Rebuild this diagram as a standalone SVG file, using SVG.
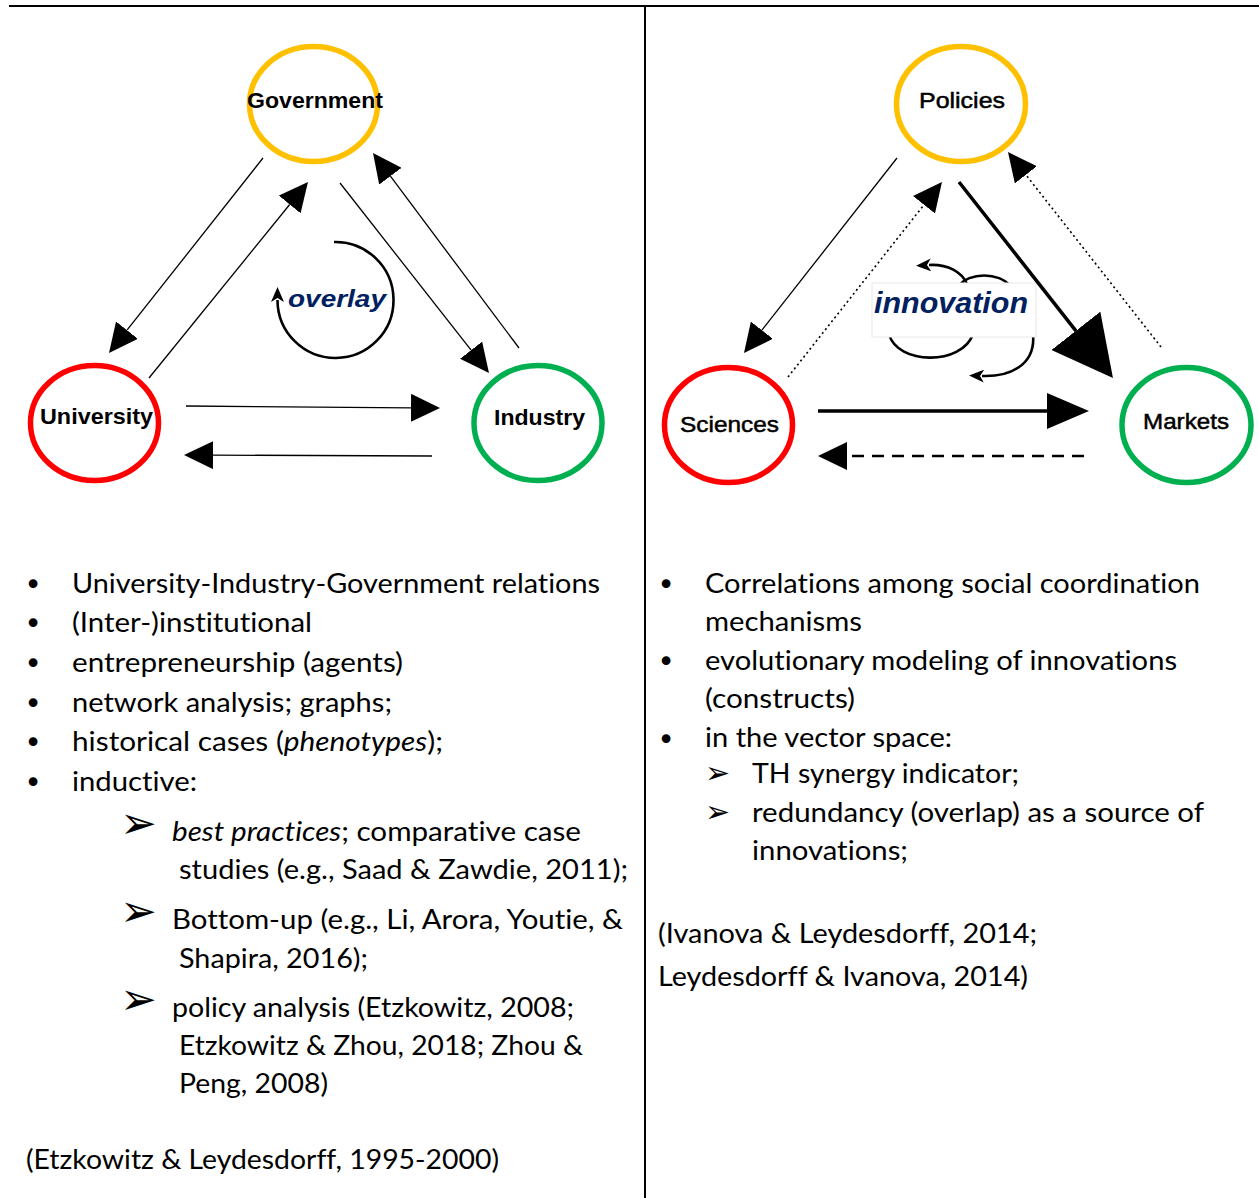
<svg xmlns="http://www.w3.org/2000/svg" width="1259" height="1198" viewBox="0 0 1259 1198">
<defs>
<style>
.t{font-family:Lato,"Open Sans",sans-serif;font-size:27px;fill:#000;font-variant-ligatures:none}
.it{font-style:italic}
.bul{font-family:"DejaVu Sans",sans-serif;font-size:30px;fill:#000}
.arr{font-family:"DejaVu Sans",sans-serif;fill:#000}
.lbl{font-family:"Liberation Sans",Arial,sans-serif;font-weight:bold;font-size:22px;fill:#000}
.lbr{font-family:"Liberation Sans",Arial,sans-serif;font-size:22px;fill:#000;stroke:#000;stroke-width:0.5}
.c{fill:none;stroke-width:5.5}
.ln{fill:none;stroke:#000;stroke-width:1.3}
.thk{fill:none;stroke:#000;stroke-width:3.5}
.dot{fill:none;stroke:#000;stroke-width:1.6;stroke-dasharray:2 3}
.dsh{fill:none;stroke:#000;stroke-width:2.5;stroke-dasharray:12 8}
.cur{fill:none;stroke:#000;stroke-width:2.6}
</style>
<marker id="ah" markerUnits="userSpaceOnUse" viewBox="0 0 29 28" markerWidth="29" markerHeight="28" refX="0" refY="14" orient="auto"><path d="M0,0 L29,14 L0,28 Z" fill="#000"/></marker>
<marker id="ahBig" markerUnits="userSpaceOnUse" viewBox="0 0 60 62" markerWidth="60" markerHeight="62" refX="0" refY="31" orient="auto"><path d="M0,0 L60,31 L0,62 Z" fill="#000"/></marker>
<marker id="ahMed" markerUnits="userSpaceOnUse" viewBox="0 0 42 36" markerWidth="42" markerHeight="36" refX="0" refY="18" orient="auto"><path d="M0,0 L42,18 L0,36 Z" fill="#000"/></marker>
<marker id="barb" markerUnits="userSpaceOnUse" viewBox="0 0 15 13" markerWidth="15" markerHeight="13" refX="2" refY="6.5" orient="auto"><path d="M0,0 L15,6.5 L0,13 L4,6.5 Z" fill="#000"/></marker>
</defs>
<rect width="1259" height="1198" fill="#fff"/>
<g id="frame">
<line x1="9" y1="6" x2="1259" y2="6" stroke="#000" stroke-width="2"/>
<line x1="645" y1="6" x2="645" y2="1198" stroke="#000" stroke-width="2"/>
</g>
<g id="overlay">
<path class="cur" d="M334,242 A58,58 0 1 1 277.5,300" stroke-width="3" marker-end="url(#barb)"/>
<text x="288" y="307" font-family="Liberation Sans,Arial,sans-serif" font-weight="bold" font-style="italic" font-size="24" fill="#002060" textLength="98" lengthAdjust="spacingAndGlyphs">overlay</text>
</g>
<g id="innovation">
<path class="cur" d="M967,284 C962,272 948,264 929,265" marker-end="url(#barb)"/>
<path class="cur" d="M959,286 C968,272 1000,272 1010,286"/>
<path class="cur" d="M889,334 C897,365 962,366 973,334"/>
<path class="cur" d="M1033,334 C1036,365 1010,377 982,376" marker-end="url(#barb)"/>
<rect x="872" y="283" width="164" height="54" fill="#fff" stroke="#e8e8e8" stroke-width="1"/>
<text x="874" y="313" font-family="Liberation Sans,Arial,sans-serif" font-weight="bold" font-style="italic" font-size="30" fill="#002060" textLength="154" lengthAdjust="spacingAndGlyphs">innovation</text>
</g>
<g id="connectors">
<path class="ln" d="M263,158 L127,330.2" marker-end="url(#ah)"/>
<path class="ln" d="M149,378 L289.7,204.5" marker-end="url(#ah)"/>
<path class="ln" d="M340,183 L471.1,350.2" marker-end="url(#ah)"/>
<path class="ln" d="M519,348 L390.4,176.2" marker-end="url(#ah)"/>
<path class="ln" d="M186,406 L411,407.8" marker-end="url(#ah)"/>
<path class="ln" d="M432,456 L213,455.1" marker-end="url(#ah)"/>
<path class="ln" d="M897,158 L761.9,330.2" marker-end="url(#ah)"/>
<path class="dot" d="M788,377 L924,204.8" marker-end="url(#ah)"/>
<path class="thk" d="M959,182 L1075.9,330.8" marker-end="url(#ahBig)"/>
<path class="dot" d="M1161,347 L1025.9,174.8" marker-end="url(#ah)"/>
<path class="thk" d="M818,411 L1047,411" marker-end="url(#ahMed)"/>
<path class="dsh" d="M1084,456 L847,456" marker-end="url(#ah)"/>
</g>
<g id="government">
<ellipse class="c" cx="313.5" cy="104" rx="64" ry="57.5" stroke="#FFC000"/>
<text class="lbl" x="247" y="108" textLength="136" lengthAdjust="spacingAndGlyphs">Government</text>
</g>
<g id="university">
<ellipse class="c" cx="94.5" cy="423" rx="64" ry="57.5" stroke="#FF0000"/>
<text class="lbl" x="40" y="424" textLength="113" lengthAdjust="spacingAndGlyphs">University</text>
</g>
<g id="industry">
<ellipse class="c" cx="538" cy="423" rx="64" ry="57.5" stroke="#00B050"/>
<text class="lbl" x="494" y="425" textLength="91" lengthAdjust="spacingAndGlyphs">Industry</text>
</g>
<g id="policies">
<ellipse class="c" cx="961" cy="104" rx="64.5" ry="57.5" stroke="#FFC000"/>
<text class="lbr" x="919" y="108" textLength="86" lengthAdjust="spacingAndGlyphs">Policies</text>
</g>
<g id="sciences">
<ellipse class="c" cx="728.5" cy="425" rx="64" ry="57.5" stroke="#FF0000"/>
<text class="lbr" x="680" y="432" textLength="99" lengthAdjust="spacingAndGlyphs">Sciences</text>
</g>
<g id="markets">
<ellipse class="c" cx="1186.5" cy="425" rx="64.5" ry="57.5" stroke="#00B050"/>
<text class="lbr" x="1143" y="429" textLength="86" lengthAdjust="spacingAndGlyphs">Markets</text>
</g>
<g id="left-text">
<text class="bul" x="33" y="595" text-anchor="middle">•</text>
<text class="bul" x="33" y="634" text-anchor="middle">•</text>
<text class="bul" x="33" y="674" text-anchor="middle">•</text>
<text class="bul" x="33" y="714" text-anchor="middle">•</text>
<text class="bul" x="33" y="753" text-anchor="middle">•</text>
<text class="bul" x="33" y="793" text-anchor="middle">•</text>
<text class="t" x="72" y="593" textLength="528" lengthAdjust="spacingAndGlyphs">University-Industry-Government relations</text>
<text class="t" x="72" y="632" textLength="240" lengthAdjust="spacingAndGlyphs">(Inter-)institutional</text>
<text class="t" x="72" y="672" textLength="331" lengthAdjust="spacingAndGlyphs">entrepreneurship (agents)</text>
<text class="t" x="72" y="712" textLength="320" lengthAdjust="spacingAndGlyphs">network analysis; graphs;</text>
<text class="t" x="72" y="751" textLength="371" lengthAdjust="spacingAndGlyphs">historical cases (<tspan class="it">phenotypes</tspan>);</text>
<text class="t" x="72" y="791" textLength="125" lengthAdjust="spacingAndGlyphs">inductive:</text>
<text class="arr" x="120" y="838" font-size="44">➢</text>
<text class="arr" x="120" y="926" font-size="44">➢</text>
<text class="arr" x="120" y="1014" font-size="44">➢</text>
<text class="t" x="172" y="841" textLength="409" lengthAdjust="spacingAndGlyphs"><tspan class="it">best practices</tspan>; comparative case</text>
<text class="t" x="179" y="879" textLength="449" lengthAdjust="spacingAndGlyphs">studies (e.g., Saad &amp; Zawdie, 2011);</text>
<text class="t" x="172" y="929" textLength="451" lengthAdjust="spacingAndGlyphs">Bottom-up (e.g., Li, Arora, Youtie, &amp;</text>
<text class="t" x="179" y="968" textLength="189" lengthAdjust="spacingAndGlyphs">Shapira, 2016);</text>
<text class="t" x="172" y="1017" textLength="402" lengthAdjust="spacingAndGlyphs">policy analysis (Etzkowitz, 2008;</text>
<text class="t" x="179" y="1055" textLength="404" lengthAdjust="spacingAndGlyphs">Etzkowitz &amp; Zhou, 2018; Zhou &amp;</text>
<text class="t" x="179" y="1093" textLength="149" lengthAdjust="spacingAndGlyphs">Peng, 2008)</text>
<text class="t" x="26" y="1169" textLength="473" lengthAdjust="spacingAndGlyphs">(Etzkowitz &amp; Leydesdorff, 1995-2000)</text>
</g>
<g id="right-text">
<text class="bul" x="666" y="595" text-anchor="middle">•</text>
<text class="bul" x="666" y="672" text-anchor="middle">•</text>
<text class="bul" x="666" y="750" text-anchor="middle">•</text>
<text class="t" x="705" y="593" textLength="495" lengthAdjust="spacingAndGlyphs">Correlations among social coordination</text>
<text class="t" x="705" y="631" textLength="157" lengthAdjust="spacingAndGlyphs">mechanisms</text>
<text class="t" x="705" y="670" textLength="472" lengthAdjust="spacingAndGlyphs">evolutionary modeling of innovations</text>
<text class="t" x="705" y="708" textLength="150" lengthAdjust="spacingAndGlyphs">(constructs)</text>
<text class="t" x="705" y="747" textLength="247" lengthAdjust="spacingAndGlyphs">in the vector space:</text>
<text class="arr" x="705" y="783" font-size="30">➢</text>
<text class="arr" x="705" y="822" font-size="30">➢</text>
<text class="t" x="752" y="783" textLength="267" lengthAdjust="spacingAndGlyphs">TH synergy indicator;</text>
<text class="t" x="752" y="822" textLength="452" lengthAdjust="spacingAndGlyphs">redundancy (overlap) as a source of</text>
<text class="t" x="752" y="860" textLength="156" lengthAdjust="spacingAndGlyphs">innovations;</text>
<text class="t" x="658" y="943" textLength="379" lengthAdjust="spacingAndGlyphs">(Ivanova &amp; Leydesdorff, 2014;</text>
<text class="t" x="658" y="986" textLength="370" lengthAdjust="spacingAndGlyphs">Leydesdorff &amp; Ivanova, 2014)</text>
</g>
</svg>
